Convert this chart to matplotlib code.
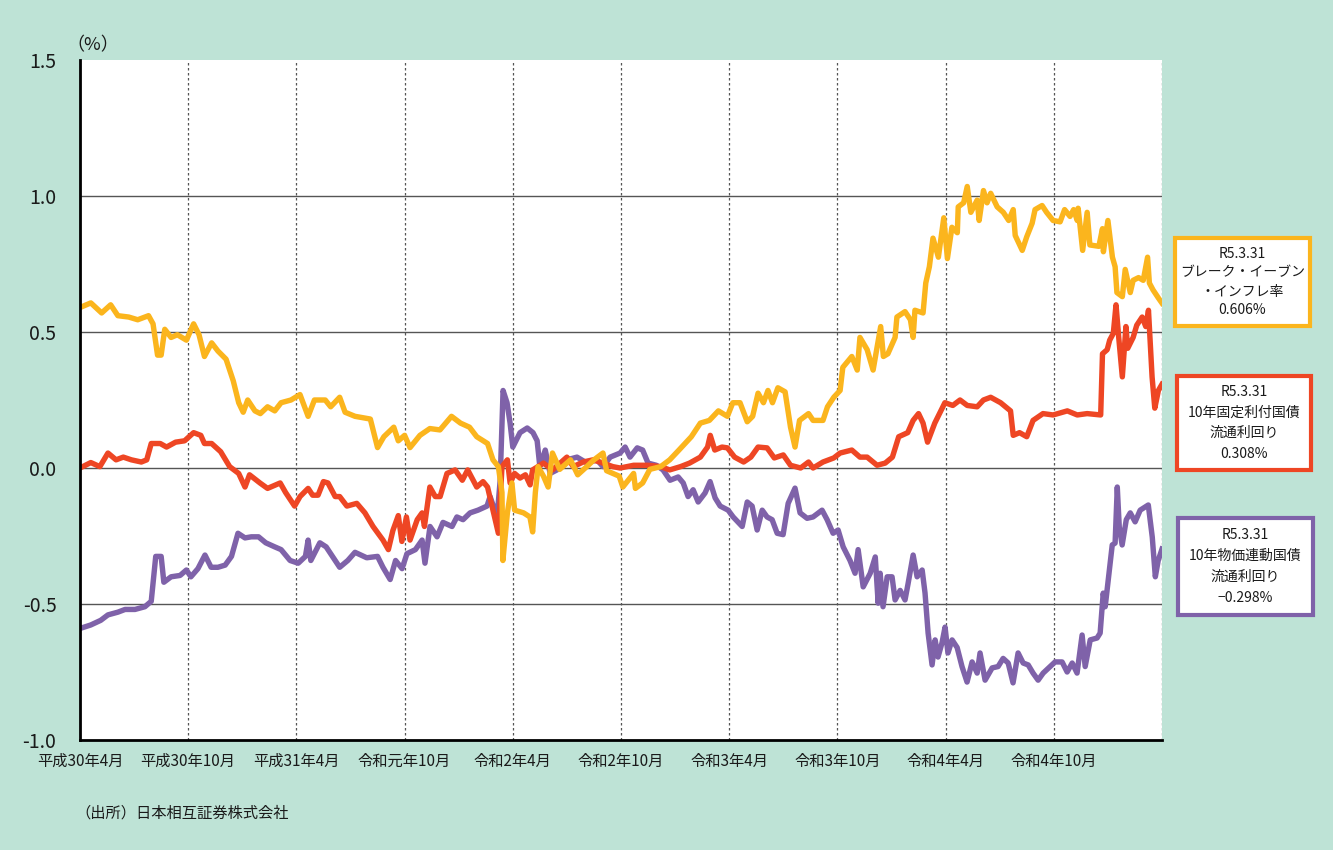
import matplotlib
matplotlib.use("Agg")
import matplotlib.pyplot as plt
from matplotlib.patches import Rectangle

plt.rcParams['font.family'] = ['Noto Sans CJK JP', 'DejaVu Sans']

# x = months since April 2018 (平成30年4月)
bei_t = [0.0, 0.6, 1.2, 1.7, 2.1, 2.7, 3.2, 3.8, 4.05, 4.3, 4.5, 4.7, 5.05, 5.4, 5.9, 6.3, 6.6, 6.9,
         7.3, 7.65, 8.1, 8.5, 8.8, 9.05, 9.3, 9.7, 10.0, 10.4, 10.8, 11.15, 11.7, 12.2, 12.65, 13.0,
         13.6, 13.9, 14.4, 14.7, 15.25, 16.1, 16.5, 16.85, 17.4, 17.65, 18.0, 18.3, 18.85, 19.4,
         19.96, 20.6, 21.1, 21.6, 22.0, 22.6, 22.9, 23.2, 23.4, 23.45, 23.7, 23.95, 24.1, 24.6,
         24.95, 25.1, 25.25, 25.4, 25.7, 25.96, 26.2, 26.6, 27.2, 27.6, 28.1, 28.5, 29.0, 29.2,
         29.9, 30.1, 30.7, 30.8, 31.2, 31.6, 32.2, 32.7, 33.2, 33.9, 34.4, 34.9, 35.4, 35.9, 36.2,
         36.6, 37.0, 37.3, 37.6, 37.9, 38.15, 38.4, 38.7, 39.1, 39.4, 39.65, 39.9, 40.4, 40.65,
         41.2, 41.45, 41.8, 42.15, 42.3, 42.8, 43.1, 43.25, 43.65, 43.98, 44.4, 44.55, 44.8, 45.2,
         45.3, 45.75, 46.05, 46.2, 46.3, 46.75, 46.9, 47.1, 47.3, 47.6, 47.9, 48.1, 48.35, 48.65,
         48.7, 49.0, 49.2, 49.4, 49.75, 49.86, 50.1, 50.3, 50.5, 50.86, 51.2, 51.5, 51.75, 51.86,
         52.25, 52.5, 52.8, 52.96, 53.35, 53.6, 53.96, 54.35, 54.6, 54.9, 55.1, 55.3, 55.35, 55.6,
         55.85, 56.0, 56.5, 56.7, 56.75, 57.0, 57.25, 57.4, 57.5, 57.8, 57.96, 58.24, 58.4, 58.7,
         58.96, 59.2, 59.3, 59.5, 59.8, 60.0]
bei_v = [0.59, 0.607, 0.57, 0.60, 0.56, 0.555, 0.545, 0.56, 0.53, 0.415, 0.415, 0.51, 0.48, 0.49,
         0.47, 0.53, 0.49, 0.41, 0.46, 0.43, 0.40, 0.32, 0.24, 0.205, 0.25, 0.21, 0.20, 0.225, 0.21,
         0.24, 0.25, 0.27, 0.19, 0.25, 0.25, 0.225, 0.26, 0.205, 0.19, 0.18, 0.075, 0.115, 0.15,
         0.10, 0.12, 0.075, 0.12, 0.145, 0.14, 0.19, 0.165, 0.15, 0.115, 0.09, 0.03, 0.005, -0.09,
         -0.34, -0.165, -0.055, -0.155, -0.165, -0.18, -0.235, -0.09, 0.005, -0.03, -0.07, 0.055,
         -0.005, 0.03, -0.025, 0.005, 0.03, 0.055, -0.01, -0.03, -0.07, -0.02, -0.075, -0.055,
         -0.005, 0.005, 0.03, 0.065, 0.115, 0.165, 0.175, 0.21, 0.19, 0.24, 0.24, 0.17, 0.19, 0.275,
         0.24, 0.285, 0.24, 0.295, 0.28, 0.15, 0.077, 0.175, 0.20, 0.175, 0.175, 0.225, 0.26, 0.285,
         0.37, 0.41, 0.36, 0.48, 0.435, 0.36, 0.52, 0.41, 0.42, 0.48, 0.555, 0.575, 0.545, 0.48,
         0.58, 0.57, 0.68, 0.74, 0.845, 0.775, 0.92, 0.77, 0.885, 0.865, 0.96, 0.975, 1.035, 0.94,
         0.985, 0.91, 1.02, 0.975, 1.01, 0.96, 0.94, 0.91, 0.95, 0.855, 0.80, 0.85, 0.90, 0.95,
         0.965, 0.94, 0.91, 0.905, 0.95, 0.925, 0.95, 0.91, 0.955, 0.80, 0.94, 0.82, 0.815, 0.88,
         0.795, 0.91, 0.775, 0.74, 0.645, 0.63, 0.73, 0.645, 0.69, 0.70, 0.69, 0.775, 0.68, 0.655,
         0.625, 0.606]

jgb_t = [0.0, 0.6, 1.1, 1.55, 2.0, 2.4, 2.85, 3.4, 3.7, 3.95, 4.45, 4.8, 5.3, 5.8, 6.3, 6.7, 6.9,
         7.3, 7.8, 8.3, 8.8, 9.15, 9.4, 9.98, 10.4, 11.1, 11.4, 11.9, 12.2, 12.65, 12.9, 13.2, 13.5,
         13.75, 14.15, 14.4, 14.8, 15.35, 15.8, 16.25, 16.8, 17.1, 17.35, 17.65, 17.85, 18.1, 18.3,
         18.7, 18.97, 19.1, 19.4, 19.7, 19.97, 20.35, 20.8, 21.2, 21.5, 22.0, 22.35, 22.6, 22.9,
         23.2, 23.4, 23.7, 23.85, 24.1, 24.4, 24.7, 24.96, 25.1, 25.7, 26.2, 27.0, 27.35, 27.9,
         28.45, 29.0, 29.55, 29.95, 30.7, 31.5, 32.2, 32.7, 33.3, 33.8, 34.4, 34.8, 34.95, 35.2,
         35.6, 35.9, 36.3, 36.8, 37.2, 37.6, 38.1, 38.5, 39.0, 39.4, 39.96, 40.4, 40.65, 41.2, 41.8,
         42.15, 42.8, 43.25, 43.65, 44.2, 44.65, 45.05, 45.4, 45.9, 46.2, 46.5, 46.75, 47.0, 47.4,
         47.96, 48.4, 48.8, 49.2, 49.75, 50.1, 50.5, 51.05, 51.6, 51.75, 52.1, 52.5, 52.85, 53.4,
         53.96, 54.75, 55.3, 55.85, 56.6, 56.7, 56.96, 57.1, 57.3, 57.45, 57.6, 57.8, 58.0, 58.1,
         58.4, 58.6, 58.9, 59.1, 59.25, 59.45, 59.6, 59.8, 60.0]
jgb_v = [0.0, 0.02, 0.005, 0.055, 0.03, 0.04, 0.03, 0.022, 0.03, 0.09, 0.09, 0.077, 0.095, 0.10,
         0.13, 0.12, 0.09, 0.09, 0.06, 0.005, -0.02, -0.07, -0.025, -0.055, -0.075, -0.055, -0.09,
         -0.14, -0.105, -0.075, -0.10, -0.10, -0.05, -0.055, -0.105, -0.105, -0.14, -0.13, -0.165,
         -0.215, -0.265, -0.30, -0.23, -0.175, -0.27, -0.18, -0.265, -0.19, -0.165, -0.215, -0.07,
         -0.105, -0.105, -0.02, -0.007, -0.045, -0.007, -0.07, -0.05, -0.07, -0.155, -0.24, 0.005,
         0.03, -0.055, -0.02, -0.037, -0.025, -0.062, -0.007, 0.018, -0.007, 0.04, 0.005, 0.022,
         0.03, 0.018, 0.005, 0.0, 0.01, 0.01, 0.005, -0.007, 0.005, 0.018, 0.04, 0.077, 0.12, 0.066,
         0.077, 0.074, 0.04, 0.022, 0.04, 0.077, 0.074, 0.037, 0.048, 0.01, 0.0, 0.022, 0.0, 0.022,
         0.037, 0.055, 0.066, 0.04, 0.04, 0.01, 0.018, 0.04, 0.115, 0.13, 0.175, 0.20, 0.165, 0.095,
         0.165, 0.24, 0.23, 0.25, 0.23, 0.225, 0.25, 0.26, 0.24, 0.21, 0.12, 0.13, 0.115, 0.175,
         0.20, 0.195, 0.21, 0.195, 0.20, 0.195, 0.42, 0.435, 0.47, 0.495, 0.60, 0.48, 0.335, 0.52,
         0.44, 0.48, 0.525, 0.555, 0.52, 0.58, 0.335, 0.22, 0.285, 0.308]

jgbi_t = [0.0, 0.6, 1.15, 1.55, 2.1, 2.5, 3.05, 3.6, 3.95, 4.2, 4.5, 4.65, 5.05, 5.55, 5.9, 6.15,
          6.54, 6.93, 7.27, 7.65, 8.05, 8.4, 8.76, 9.15, 9.5, 9.9, 10.3, 10.8, 11.15, 11.65, 12.1,
          12.5, 12.65, 12.8, 13.3, 13.65, 14.0, 14.4, 14.85, 15.25, 15.9, 16.5, 16.8, 17.2, 17.5,
          17.86, 18.13, 18.6, 18.97, 19.13, 19.41, 19.8, 20.13, 20.63, 20.9, 21.24, 21.63, 22.07,
          22.57, 22.74, 23.13, 23.3, 23.46, 23.68, 23.85, 24.0, 24.4, 24.8, 25.12, 25.35, 25.5,
          25.8, 26.07, 26.45, 27.0, 27.56, 28.12, 28.67, 29.0, 29.4, 29.95, 30.23, 30.5, 30.9,
          31.2, 31.5, 31.96, 32.33, 32.72, 33.17, 33.45, 33.72, 34.0, 34.28, 34.66, 34.94, 35.22,
          35.5, 35.94, 36.22, 36.72, 37.0, 37.27, 37.55, 37.83, 38.1, 38.38, 38.66, 38.99, 39.27,
          39.65, 39.93, 40.32, 40.65, 41.15, 41.43, 41.76, 42.04, 42.32, 42.7, 42.98, 43.15, 43.43,
          43.82, 44.1, 44.26, 44.37, 44.53, 44.76, 45.03, 45.2, 45.48, 45.75, 45.92, 46.2, 46.42,
          46.7, 46.86, 47.03, 47.25, 47.42, 47.58, 47.8, 47.97, 48.13, 48.36, 48.64, 48.91, 49.19,
          49.47, 49.75, 49.91, 50.19, 50.58, 50.91, 51.19, 51.47, 51.74, 52.02, 52.3, 52.58, 52.85,
          53.13, 53.41, 53.8, 54.07, 54.46, 54.74, 55.02, 55.29, 55.57, 55.74, 56.02, 56.4, 56.57,
          56.74, 56.85, 57.02, 57.24, 57.4, 57.52, 57.63, 57.79, 58.02, 58.24, 58.51, 58.79, 59.07,
          59.24, 59.46, 59.63, 59.79, 60.0]
jgbi_v = [-0.59, -0.577, -0.56, -0.54, -0.53, -0.52, -0.52, -0.51, -0.49, -0.325, -0.325, -0.42,
          -0.40, -0.395, -0.375, -0.40, -0.37, -0.32, -0.365, -0.365, -0.357, -0.325, -0.24,
          -0.257, -0.253, -0.253, -0.275, -0.29, -0.30, -0.34, -0.35, -0.325, -0.265, -0.34,
          -0.275, -0.29, -0.325, -0.365, -0.34, -0.31, -0.33, -0.325, -0.365, -0.41, -0.34, -0.37,
          -0.315, -0.30, -0.265, -0.35, -0.215, -0.253, -0.20, -0.215, -0.18, -0.19, -0.165,
          -0.155, -0.14, -0.105, -0.18, -0.045, 0.285, 0.24, 0.165, 0.077, 0.13, 0.147, 0.13, 0.10,
          0.005, 0.066, -0.02, -0.007, 0.03, 0.04, 0.018, 0.03, 0.005, 0.04, 0.055, 0.077, 0.04,
          0.074, 0.066, 0.018, 0.01, -0.007, -0.045, -0.033, -0.055, -0.105, -0.08, -0.125, -0.092,
          -0.05, -0.11, -0.14, -0.155, -0.18, -0.215, -0.125, -0.14, -0.228, -0.155, -0.18, -0.19,
          -0.24, -0.245, -0.13, -0.074, -0.165, -0.185, -0.18, -0.155, -0.19, -0.24, -0.228, -0.29,
          -0.34, -0.387, -0.30, -0.437, -0.387, -0.327, -0.497, -0.387, -0.51, -0.40, -0.40,
          -0.485, -0.45, -0.485, -0.425, -0.32, -0.40, -0.375, -0.46, -0.607, -0.724, -0.632,
          -0.695, -0.643, -0.585, -0.68, -0.632, -0.66, -0.73, -0.787, -0.713, -0.754, -0.68,
          -0.78, -0.735, -0.73, -0.70, -0.717, -0.79, -0.68, -0.717, -0.724, -0.754, -0.78, -0.754,
          -0.73, -0.713, -0.713, -0.75, -0.717, -0.754, -0.614, -0.73, -0.632, -0.625, -0.607,
          -0.46, -0.51, -0.41, -0.283, -0.276, -0.07, -0.217, -0.283, -0.19, -0.165, -0.198,
          -0.155, -0.143, -0.136, -0.254, -0.40, -0.34, -0.298]

xtick_pos = [0, 6, 12, 18, 24, 30, 36, 42, 48, 54]
xtick_labels = ['平成30年4月', '平成30年10月', '平成31年4月', '令和元年10月', '令和2年4月',
                '令和2年10月', '令和3年4月', '令和3年10月', '令和4年4月', '令和4年10月']
ytick_pos = [-1.0, -0.5, 0.0, 0.5, 1.0, 1.5]
ytick_labels = ['-1.0', '-0.5', '0.0', '0.5', '1.0', '1.5']

box_texts = [
    ['R5.3.31', 'ブレーク・イーブン', '・インフレ率', '0.606%'],
    ['R5.3.31', '10年固定利付国債', '流通利回り', '0.308%'],
    ['R5.3.31', '10年物価連動国債', '流通利回り', '−0.298%'],
]

BG = '#bee3d6'
C_BEI = '#fbb51d'
C_JGB = '#ee4624'
C_JGBI = '#7f62a9'
TXT = '#1a1a1a'

W, H = 1333, 850
fig = plt.figure(figsize=(W / 100, H / 100), dpi=100, facecolor=BG)
ax = fig.add_axes([80 / W, 1 - 740 / H, (1162 - 80) / W, (740 - 60) / H])
ax.set_facecolor('white')

for y in [-0.5, 0.0, 0.5, 1.0]:
    ax.axhline(y, color='#555555', lw=1.0, zorder=1)
for x in [6, 12, 18, 24, 30, 36, 42, 48, 54, 60]:
    ax.axvline(x, color='#555555', lw=0.9, ls=(0, (2, 2)), zorder=1)

lw = 3.9
ax.plot(jgbi_t, jgbi_v, color=C_JGBI, lw=lw, zorder=3, solid_joinstyle='round')
ax.plot(jgb_t, jgb_v, color=C_JGB, lw=lw, zorder=4, solid_joinstyle='round')
ax.plot(bei_t, bei_v, color=C_BEI, lw=lw, zorder=5, solid_joinstyle='round')

ax.set_xlim(0, 60)
ax.set_ylim(-1.0, 1.5)
for s in ['top', 'right']:
    ax.spines[s].set_visible(False)
for s in ['left', 'bottom']:
    ax.spines[s].set_color('black')
    ax.spines[s].set_linewidth(2.0)
    ax.spines[s].set_zorder(6)

ax.set_yticks(ytick_pos)
ax.set_yticklabels(ytick_labels, fontsize=14, color=TXT)
ax.set_xticks(xtick_pos)
ax.set_xticklabels(xtick_labels, fontsize=11, color=TXT)
ax.tick_params(axis='y', length=0, pad=17)
ax.tick_params(axis='x', length=0, pad=9)

fig.text(66 / W, 1 - 45 / H, '（%）', fontsize=13, ha='left', va='center', color=TXT)
fig.text(75 / W, 1 - 813 / H, '（出所）日本相互証券株式会社', fontsize=11, ha='left', va='center',
         color=TXT)

boxes = [(1175, 238, 1310, 326, C_BEI), (1177, 376, 1311, 470, C_JGB), (1178, 518, 1313, 615, C_JGBI)]
for (x0, y0, x1, y1, c), lines in zip(boxes, box_texts):
    rect = Rectangle((x0 / W, 1 - y1 / H), (x1 - x0) / W, (y1 - y0) / H, transform=fig.transFigure,
                     facecolor='white', edgecolor=c, lw=3.0)
    fig.patches.append(rect)
    n = len(lines)
    cx = (x0 + x1) / 2
    step = (y1 - y0 - 12) / n
    for i, t in enumerate(lines):
        yy = y0 + 6 + step * (i + 0.5)
        fig.text(cx / W, 1 - yy / H, t, fontsize=10, ha='center', va='center', color=TXT)

fig.savefig('out.png', dpi=100, facecolor=BG)
